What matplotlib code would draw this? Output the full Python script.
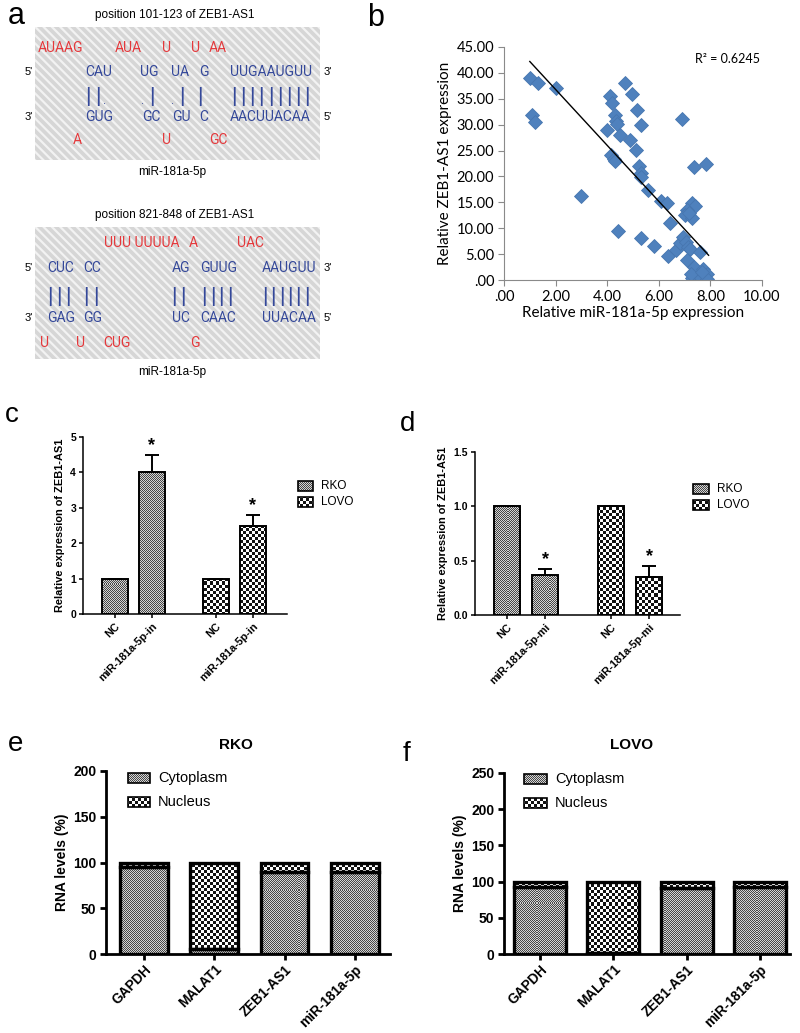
import numpy as np
import matplotlib
matplotlib.use("Agg")
import matplotlib.pyplot as plt
from matplotlib.colors import ListedColormap
from matplotlib.patches import Rectangle

# =========================
# data
# =========================

# b: correlation scatter
mir181_expr = [1.00, 1.30, 2.00, 1.10, 1.20, 3.00, 4.70, 4.10, 4.20, 4.95,
               4.30, 4.35, 4.37, 4.00, 4.50, 5.15, 5.30, 4.90, 5.10, 4.15,
               4.25, 4.30, 5.22, 5.30, 5.32, 5.60, 6.07, 6.30, 6.88, 7.35,
               7.82, 4.40, 5.30, 5.80, 6.44, 6.37, 6.65, 6.83, 6.92, 7.04,
               7.15, 7.22, 7.08, 7.30, 7.42, 7.10, 7.00, 7.28, 7.18, 7.60,
               7.30, 7.47, 7.38, 7.60, 7.73, 7.86, 7.86, 7.24, 7.67]
zeb1as1_expr = [39.0, 38.1, 37.1, 31.8, 30.5, 16.3, 38.0, 35.5, 34.2, 35.9,
                31.9, 30.8, 30.1, 29.0, 28.0, 32.9, 29.9, 27.0, 25.1, 24.1,
                23.4, 23.0, 22.0, 20.7, 19.9, 17.4, 15.2, 14.9, 31.0, 21.9,
                22.4, 9.5, 8.2, 6.6, 11.1, 4.6, 5.8, 7.1, 8.4, 7.4,
                6.4, 5.9, 3.9, 14.8, 14.3, 13.6, 12.5, 11.9, 12.9, 5.4,
                0.3, 1.3, 2.6, 0.6, 2.2, 1.2, 0.2, 1.1, 1.6]
trend_slope = -5.4
trend_intercept = 47.6
trend_range = [1.0, 7.93]
r2_label = "R² = 0.6245"
b_xticks = [0, 2, 4, 6, 8, 10]
b_xticklabels = [".00", "2.00", "4.00", "6.00", "8.00", "10.00"]
b_yticks = [0, 5, 10, 15, 20, 25, 30, 35, 40, 45]
b_yticklabels = [".00", "5.00", "10.00", "15.00", "20.00", "25.00",
                 "30.00", "35.00", "40.00", "45.00"]

# c: inhibitor
c_labels = ["NC", "miR-181a-5p-in", "NC", "miR-181a-5p-in"]
c_values = [1.0, 4.0, 1.0, 2.5]
c_err = [0.0, 0.5, 0.0, 0.3]
c_star = [False, True, False, True]

# d: mimic
d_labels = ["NC", "miR-181a-5p-mi", "NC", "miR-181a-5p-mi"]
d_values = [1.0, 0.37, 1.0, 0.35]
d_err = [0.0, 0.05, 0.0, 0.10]
d_star = [False, True, False, True]

cell_lines = ["RKO", "RKO", "LOVO", "LOVO"]

# e / f: subcellular fractions
genes = ["GAPDH", "MALAT1", "ZEB1-AS1", "miR-181a-5p"]
rko_cyto = [95, 6, 90, 90]
rko_nuc = [5, 94, 10, 10]
lovo_cyto = [93, 1, 91, 92]
lovo_nuc = [7, 99, 9, 8]

# =========================
# figure
# =========================

W, H = 800, 1033
plt.rcParams["font.family"] = ["Liberation Sans", "DejaVu Sans"]
plt.rcParams["hatch.linewidth"] = 1.6
fig = plt.figure(figsize=(W / 100, H / 100), dpi=100)


def px_axes(left, top, right, bottom, **kw):
    return fig.add_axes([left / W, 1 - bottom / H, (right - left) / W, (bottom - top) / H], **kw)


# overlay for bar textures (pixel coords, drawn under the panels)
ov = fig.add_axes([0, 0, 1, 1], zorder=-1)
ov.set_axis_off()


def pattern(cell, dark, light):
    ny, nx = -(-H // cell), -(-W // cell)
    yy, xx = np.indices((ny, nx))
    return dict(X=(xx + yy) % 2, cmap=ListedColormap([dark, light]),
                extent=(0, nx * cell, ny * cell, 0))


fine = pattern(1, "#474747", "#d4d4d4")
coarse = pattern(3, "#121212", "#ffffff")
pats = {"RKO": fine, "LOVO": coarse}


def fill(patch, pat):
    im = ov.imshow(pat["X"], cmap=pat["cmap"], extent=pat["extent"], vmin=0, vmax=1,
                   interpolation="nearest", aspect="auto")
    # imshow resets the clip to the axes for Rectangles, so set it afterwards
    im.set_clip_path(patch)


def swatch(x, y, w, h, pat, text, size):
    r = Rectangle((x, y - h / 2), w, h, facecolor="none", edgecolor="black", lw=1.2)
    ov.add_patch(r)
    fill(r, pat)
    ov.text(x + w + 8, y, text, va="center", ha="left", fontsize=size)


def letter(x, y, s, size=20):
    fig.text(x / W, 1 - y / H, s, fontsize=size, ha="left", va="baseline")


# =========================
# a: binding sites
# =========================

seq_font, seq_size = "Roboto", 10
BLUE, RED = "#34489a", "#e5383b"

ax_a = px_axes(0, 0, 400, 380)
ax_a.set_xlim(0, 400)
ax_a.set_ylim(380, 0)
ax_a.set_axis_off()

for top, bottom in [(27, 160), (227, 359)]:
    ax_a.add_patch(Rectangle((35, top), 285, bottom - top, facecolor="#d6d6d6",
                             edgecolor="#f2f2f2", hatch="\\\\\\\\", lw=0))


def seq_row(items, y, color):
    for x, s in items:
        ax_a.text(x, y, s, color=color, family=seq_font, fontsize=seq_size,
                  ha="left", va="center")


def bar_row(groups, y):
    for x0, n, step in groups:
        for i in range(n):
            ax_a.text(x0 + i * step, y, "|", color=BLUE, fontsize=15,
                      ha="center", va="center")


def dot_row(xs, y):
    for x in xs:
        ax_a.text(x, y + 4, ".", color=BLUE, fontsize=8, ha="center", va="center")


# site 1
ax_a.text(175, 15, "position 101-123 of ZEB1-AS1", fontsize=8.5, ha="center", va="center")
seq_row([(38, "AUAAG"), (115, "AUA"), (162, "U"), (191, "U"), (209, "AA")], 48, RED)
seq_row([(85, "CAU"), (140, "UG"), (171, "UA"), (199, "G"), (230, "UUGAAUGUU")], 72, BLUE)
bar_row([(88, 2, 9.5), (152, 1, 0), (182, 1, 0), (200, 1, 0), (234, 9, 9.1)], 97)
dot_row([104, 142, 172], 97)
seq_row([(85, "GUG"), (142, "GC"), (172, "GU"), (199, "C"), (230, "AACUUACAA")], 117, BLUE)
seq_row([(73, "A"), (162, "U"), (209, "GC")], 140, RED)
for y, l, r in [(72, "5'", "3'"), (117, "3'", "5'")]:
    ax_a.text(25, y, l, fontsize=8, ha="left", va="center")
    ax_a.text(324, y, r, fontsize=8, ha="left", va="center")
ax_a.text(172, 172, "miR-181a-5p", fontsize=8.5, ha="center", va="center")

# site 2
ax_a.text(175, 215, "position 821-848 of ZEB1-AS1", fontsize=8.5, ha="center", va="center")
seq_row([(104, "UUU UUUUA"), (189, "A"), (237, "UAC")], 243, RED)
seq_row([(47, "CUC"), (83, "CC"), (172, "AG"), (200, "GUUG"), (262, "AAUGUU")], 268, BLUE)
bar_row([(50, 3, 9.0), (86, 2, 9.5), (174, 2, 9.0), (204, 4, 8.6), (265, 6, 8.3)], 297)
seq_row([(47, "GAG"), (83, "GG"), (172, "UC"), (200, "CAAC"), (262, "UUACAA")], 318, BLUE)
seq_row([(40, "U"), (76, "U"), (103, "CUG"), (190, "G")], 343, RED)
for y, l, r in [(268, "5'", "3'"), (318, "3'", "5'")]:
    ax_a.text(25, y, l, fontsize=8, ha="left", va="center")
    ax_a.text(324, y, r, fontsize=8, ha="left", va="center")
ax_a.text(172, 372, "miR-181a-5p", fontsize=8.5, ha="center", va="center")

# =========================
# b: correlation
# =========================

ax_b = px_axes(504, 47, 762, 280)
ax_b.plot(mir181_expr, zeb1as1_expr, ls="none", marker="D", ms=7,
          mfc="#4f81bd", mec="#4776b0", mew=0.6)
xs = np.array(trend_range)
ax_b.plot(xs, trend_slope * xs + trend_intercept, color="black", lw=1)
ax_b.set_xlim(0, 10)
ax_b.set_ylim(0, 45)
ax_b.set_xticks(b_xticks)
ax_b.set_xticklabels(b_xticklabels, family="Lato", fontsize=10.5)
ax_b.set_yticks(b_yticks)
ax_b.set_yticklabels(b_yticklabels, family="Lato", fontsize=10.5)
for s in ["top", "right"]:
    ax_b.spines[s].set_visible(False)
for s in ["left", "bottom"]:
    ax_b.spines[s].set_color("#8a8a8a")
ax_b.tick_params(direction="out", length=4, color="#8a8a8a", pad=3)
ax_b.set_xlabel("Relative miR-181a-5p expression", family="Lato", fontsize=11, labelpad=2)
ax_b.set_ylabel("Relative ZEB1-AS1 expression", family="Lato", fontsize=11, labelpad=3)
ax_b.text(0.74, 0.93, r2_label, transform=ax_b.transAxes, family="Lato", fontsize=9)

# =========================
# c / d: bar charts
# =========================

grp_x = [0, 1, 2.73, 3.73]


def bar_panel(ax, labels, values, errs, stars, ymax, yticks, yticklabels):
    bars = ax.bar(grp_x, values, 0.69, facecolor="none", edgecolor="black", lw=1.4, zorder=2)
    for p, c in zip(bars, cell_lines):
        fill(p, pats[c])
    ax.errorbar(grp_x, values, yerr=[[0] * len(errs), errs], fmt="none",
                ecolor="black", elinewidth=1.4, capsize=5, capthick=1.4, zorder=3)
    for x, v, e, st in zip(grp_x, values, errs, stars):
        if st:
            ax.text(x, v + e + ymax * 0.005, "*", ha="center", va="bottom",
                    fontsize=13, fontweight="bold")
    ax.set_facecolor("none")
    ax.set_ylim(0, ymax)
    ax.set_yticks(yticks)
    ax.set_yticklabels(yticklabels, fontsize=7.5, fontweight="bold")
    ax.set_xticks(grp_x)
    ax.set_xticklabels(labels, rotation=45, ha="right", rotation_mode="anchor",
                       fontsize=7.8, fontweight="bold")
    for s in ["top", "right"]:
        ax.spines[s].set_visible(False)
    for s in ["left", "bottom"]:
        ax.spines[s].set_linewidth(1.1)
    ax.tick_params(direction="out", length=3, width=1.1, pad=2)
    ax.set_ylabel("Relative expression of ZEB1-AS1", fontsize=7.9, fontweight="bold", labelpad=4)


ax_c = px_axes(83, 437, 287, 614)
bar_panel(ax_c, c_labels, c_values, c_err, c_star, 5, [0, 1, 2, 3, 4, 5],
          ["0", "1", "2", "3", "4", "5"])
ax_c.set_xlim(-0.865, 4.65)
swatch(298, 486, 15, 10, fine, "RKO", 8.5)
swatch(298, 502, 15, 10, coarse, "LOVO", 8.5)

ax_d = px_axes(475, 452, 680, 615)
bar_panel(ax_d, d_labels, d_values, d_err, d_star, 1.5, [0, 0.5, 1.0, 1.5],
          ["0.0", "0.5", "1.0", "1.5"])
ax_d.set_xlim(-0.84, 4.54)
swatch(693, 489, 16, 10, fine, "RKO", 8.5)
swatch(693, 505, 16, 10, coarse, "LOVO", 8.5)

# =========================
# e / f: stacked fractions
# =========================


def frac_panel(ax, cyto, nuc, width, ymax, title, title_x):
    x = np.arange(len(genes))
    b1 = ax.bar(x, cyto, width, facecolor="none", edgecolor="black", lw=2.4, zorder=2)
    b2 = ax.bar(x, nuc, width, bottom=cyto, facecolor="none", edgecolor="black", lw=2.4, zorder=2)
    for p in b1:
        fill(p, fine)
    for p in b2:
        fill(p, coarse)
    ax.set_facecolor("none")
    ax.set_ylim(0, ymax)
    ax.set_yticks(np.arange(0, ymax + 1, 50))
    ax.tick_params(axis="y", labelsize=10)
    for t in ax.get_yticklabels():
        t.set_fontweight("bold")
    ax.set_xticks(x)
    ax.set_xticklabels(genes, rotation=45, ha="right", rotation_mode="anchor",
                       fontsize=9.8, fontweight="bold")
    for s in ["top", "right"]:
        ax.spines[s].set_visible(False)
    for s in ["left", "bottom"]:
        ax.spines[s].set_linewidth(2)
    ax.tick_params(direction="out", length=4, width=2, pad=3)
    ax.tick_params(axis="x", pad=2)
    ax.set_ylabel("RNA levels (%)", fontsize=10, fontweight="bold", labelpad=3)
    fig.text(title_x / W, 1 - 745 / H, title, fontsize=11, fontweight="bold",
             ha="center", va="center")


ax_e = px_axes(106, 771, 390, 954)
frac_panel(ax_e, rko_cyto, rko_nuc, 0.68, 200, "RKO", 236)
ax_e.set_xlim(-0.54, 3.5)
swatch(128, 778, 22, 10, fine, "Cytoplasm", 10.5)
swatch(128, 802, 22, 10, coarse, "Nucleus", 10.5)

ax_f = px_axes(504, 773, 790, 954)
frac_panel(ax_f, lovo_cyto, lovo_nuc, 0.71, 250, "LOVO", 632)
ax_f.set_xlim(-0.49, 3.41)
swatch(524, 779, 23, 10, fine, "Cytoplasm", 10.5)
swatch(524, 803, 23, 10, coarse, "Nucleus", 10.5)

# overlay limits last (imshow autoscales)
ov.set_xlim(0, W)
ov.set_ylim(H, 0)

# panel letters
letter(8, 24, "a", 22)
letter(367, 26, "b", 22)
letter(5, 422, "c", 20)
letter(400, 431, "d", 20)
letter(8, 751, "e", 20)
letter(403, 761, "f", 20)

plt.savefig("out.png", dpi=100)
